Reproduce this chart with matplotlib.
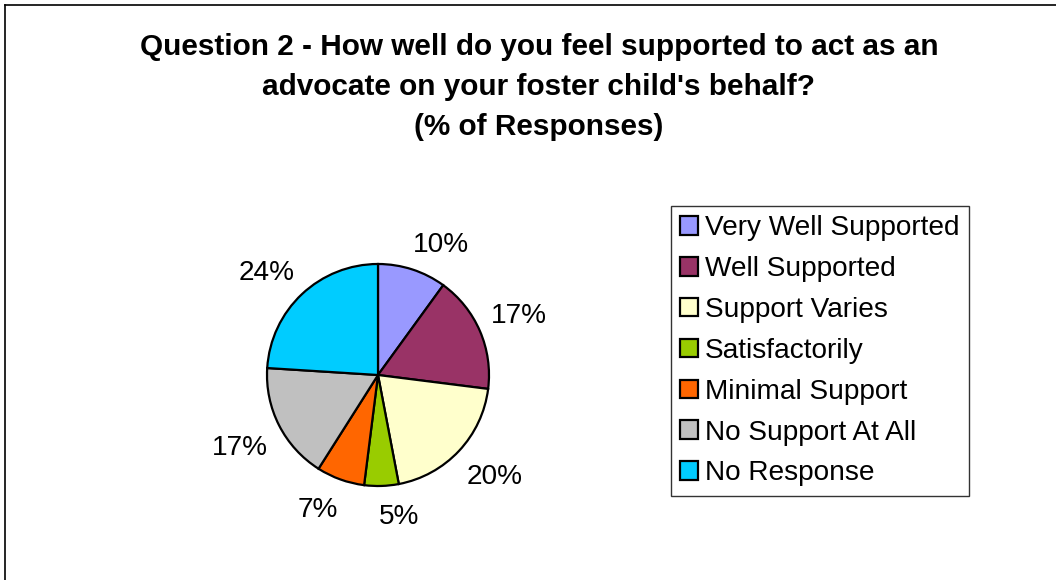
import numpy as np
import matplotlib
matplotlib.use("Agg")
import matplotlib.pyplot as plt
from matplotlib.lines import Line2D

plt.rcParams['font.family'] = ['Liberation Sans', 'DejaVu Sans']

categories = ["Very Well Supported", "Well Supported", "Support Varies",
              "Satisfactorily", "Minimal Support", "No Support At All",
              "No Response"]
percentages = [10, 17, 20, 5, 7, 17, 24]
colors = ["#9999FF", "#993366", "#FFFFCC", "#99CC00", "#FF6600",
          "#C0C0C0", "#00CCFF"]
title = ("Question 2 - How well do you feel supported to act as an\n"
         "advocate on your foster child's behalf?\n"
         "(% of Responses)")

W, H = 1056, 580
fig = plt.figure(figsize=(W / 100, H / 100), dpi=100)
fig.patch.set_facecolor("white")

# chart area border (left and top edges)
fig.add_artist(Line2D([5 / W, 5 / W], [0, 1 - 5 / H], color="black", lw=1.2,
                      transform=fig.transFigure))
fig.add_artist(Line2D([5 / W, 1], [1 - 5 / H, 1 - 5 / H], color="black", lw=1.2,
                      transform=fig.transFigure))

fig.text(539 / W, 1 - 87 / H, title, ha="center", va="center",
         fontsize=21.4, fontweight="bold", linespacing=1.53)

# pie axes: centre (378, 375) px, radius 111 px
cx, cy, r = 378, 375, 111
ax = fig.add_axes([(cx - r) / W, (H - cy - r) / H, 2 * r / W, 2 * r / H])
wedges, _ = ax.pie(
    percentages, colors=colors, startangle=90, counterclock=False,
    wedgeprops=dict(edgecolor="black", linewidth=1.6))
ax.set_xlim(-1, 1)
ax.set_ylim(-1, 1)
ax.set_aspect("equal")

# outside value labels, pushed off the slice's mid-angle ray toward the
# quadrant the slice points into
label_fs = 20.2
fig.canvas.draw()
renderer = fig.canvas.get_renderer()
ray_r = 128 / r          # anchor radius in data units
dy_off = 11.5 / r        # vertical push in data units
cap_mid = 10.0 / r       # baseline-to-ink-centre distance
for w, pct in zip(wedges, percentages):
    theta = np.deg2rad((w.theta1 + w.theta2) / 2)
    c, s = np.cos(theta), np.sin(theta)
    t = ax.text(0, 0, f"{pct}%", fontsize=label_fs, ha="center", va="baseline")
    width_px = t.get_window_extent(renderer).width
    x = ray_r * c + np.sign(c) * 0.85 * width_px / 2 / r
    y = ray_r * s + np.sign(s) * dy_off - cap_mid
    t.set_position((x, y))
    t.set_clip_on(False)

leg = fig.legend(wedges, categories, loc="upper left",
                 bbox_to_anchor=(671 / W, 1 - 206 / H),
                 bbox_transform=fig.transFigure,
                 fontsize=label_fs, frameon=True, fancybox=False, shadow=False,
                 handlelength=0.64, handleheight=0.64, handletextpad=0.25,
                 labelspacing=0.53, borderpad=0.33, borderaxespad=0)
leg.get_frame().set_edgecolor("black")
leg.get_frame().set_linewidth(1.0)
for h in leg.legend_handles:
    h.set_linewidth(1.6)

fig.savefig("out.png", dpi=100, facecolor="white")
